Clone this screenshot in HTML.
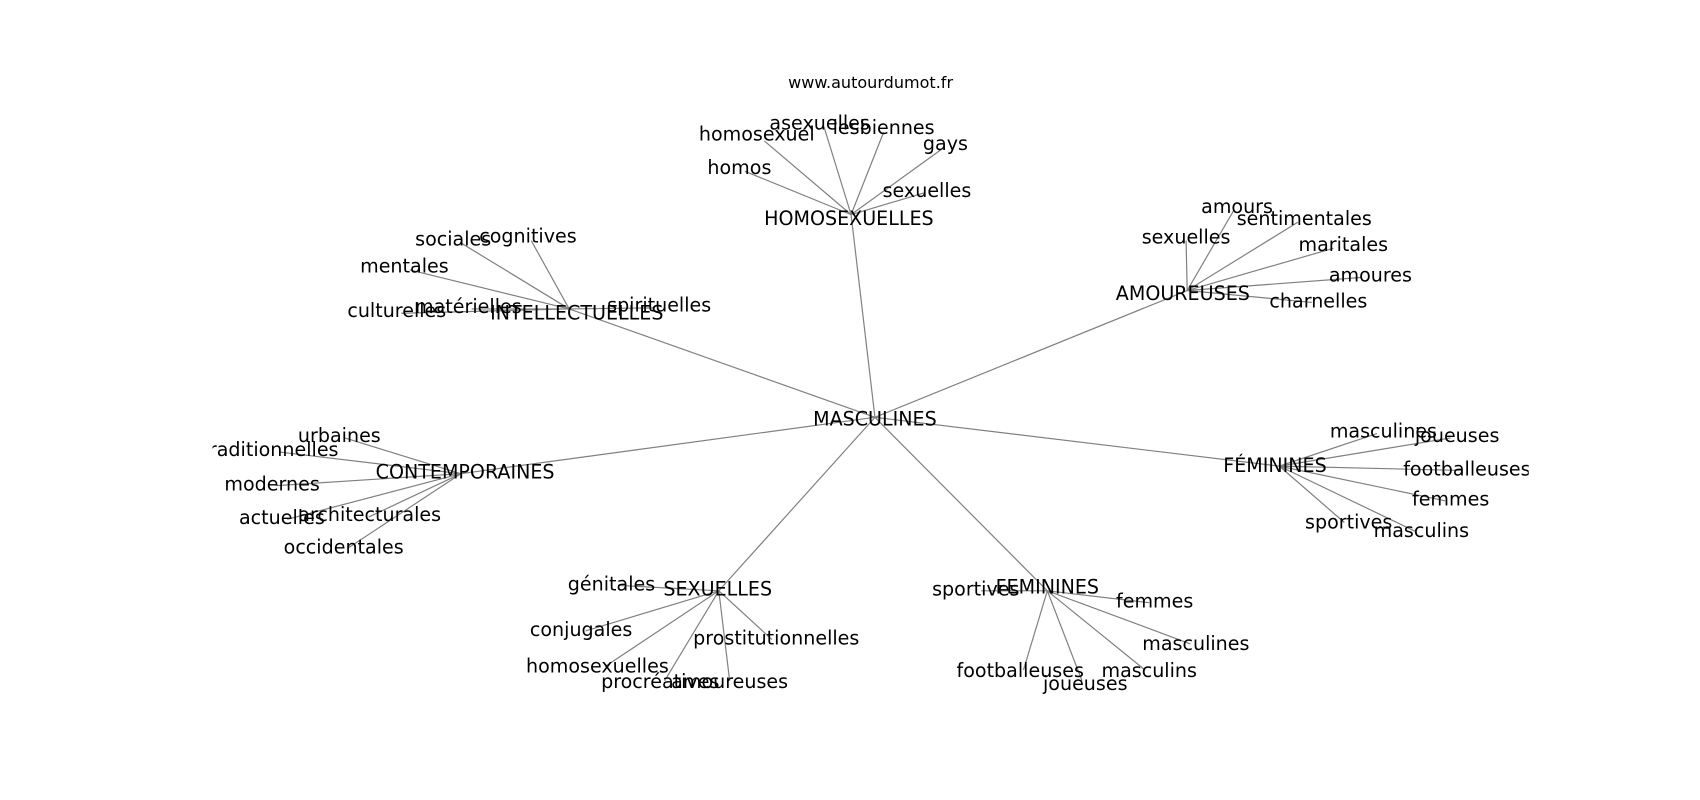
<!DOCTYPE html>
<html><head><meta charset="utf-8"><style>
html,body{margin:0;padding:0;background:#fff;width:1700px;height:800px;overflow:hidden}
svg text{font-family:"DejaVu Sans","Liberation Sans",sans-serif;font-size:17.6px;fill:#000;text-anchor:middle;dominant-baseline:central}
line{stroke:#808080;stroke-width:1.1}
</style></head><body>
<svg width="1700" height="800" viewBox="0 0 1568 738" preserveAspectRatio="none" xmlns="http://www.w3.org/2000/svg">
<defs><clipPath id="c"><rect x="196" y="0" width="1214" height="738"/></clipPath></defs>
<g>
<line x1="807" y1="385" x2="785" y2="198"/>
<line x1="807" y1="385" x2="1095" y2="268"/>
<line x1="807" y1="385" x2="525" y2="285"/>
<line x1="807" y1="385" x2="425" y2="437"/>
<line x1="807" y1="385" x2="1180" y2="430"/>
<line x1="807" y1="385" x2="663" y2="545"/>
<line x1="807" y1="385" x2="966" y2="545"/>

<line x1="785" y1="198" x2="687" y2="158"/>
<line x1="785" y1="198" x2="705" y2="130"/>
<line x1="785" y1="198" x2="760" y2="117"/>
<line x1="785" y1="198" x2="815" y2="122"/>
<line x1="785" y1="198" x2="868" y2="138"/>
<line x1="785" y1="198" x2="852" y2="178"/>

<line x1="1095" y1="268" x2="1138" y2="194"/>
<line x1="1095" y1="268" x2="1094" y2="222"/>
<line x1="1095" y1="268" x2="1197" y2="205"/>
<line x1="1095" y1="268" x2="1230" y2="229"/>
<line x1="1095" y1="268" x2="1255" y2="256"/>
<line x1="1095" y1="268" x2="1210" y2="279"/>

<line x1="525" y1="285" x2="425" y2="224"/>
<line x1="525" y1="285" x2="490" y2="222"/>
<line x1="525" y1="285" x2="378" y2="249"/>
<line x1="525" y1="285" x2="370" y2="289"/>
<line x1="525" y1="285" x2="435" y2="285"/>
<line x1="525" y1="285" x2="603" y2="284"/>

<line x1="425" y1="437" x2="318" y2="404"/>
<line x1="425" y1="437" x2="258" y2="417"/>
<line x1="425" y1="437" x2="255" y2="448"/>
<line x1="425" y1="437" x2="265" y2="479"/>
<line x1="425" y1="437" x2="340" y2="477"/>
<line x1="425" y1="437" x2="322" y2="505"/>

<line x1="1180" y1="430" x2="1270" y2="400"/>
<line x1="1180" y1="430" x2="1338" y2="404"/>
<line x1="1180" y1="430" x2="1348" y2="434"/>
<line x1="1180" y1="430" x2="1333" y2="462"/>
<line x1="1180" y1="430" x2="1240" y2="482"/>
<line x1="1180" y1="430" x2="1305" y2="490"/>

<line x1="663" y1="545" x2="570" y2="540"/>
<line x1="663" y1="545" x2="540" y2="582"/>
<line x1="663" y1="545" x2="712" y2="590"/>
<line x1="663" y1="545" x2="558" y2="615"/>
<line x1="663" y1="545" x2="613" y2="628"/>
<line x1="663" y1="545" x2="673" y2="628"/>

<line x1="966" y1="545" x2="905" y2="545"/>
<line x1="966" y1="545" x2="1060" y2="556"/>
<line x1="966" y1="545" x2="1098" y2="594"/>
<line x1="966" y1="545" x2="944" y2="618"/>
<line x1="966" y1="545" x2="998" y2="628"/>
<line x1="966" y1="545" x2="1056" y2="618"/>
</g>
<text x="803" y="76" style="font-size:14.8px">www.autourdumot.fr</text>
<g clip-path="url(#c)">
<text x="807" y="387">MASCULINES</text>
<text x="783" y="202">HOMOSEXUELLES</text>
<text x="682" y="155">homos</text>
<text x="698" y="124">homosexuel</text>
<text x="756" y="114">asexuelles</text>
<text x="815" y="118">lesbiennes</text>
<text x="872" y="133">gays</text>
<text x="855" y="176">sexuelles</text>

<text x="1091" y="271">AMOUREUSES</text>
<text x="1141" y="191">amours</text>
<text x="1094" y="219">sexuelles</text>
<text x="1203" y="202">sentimentales</text>
<text x="1239" y="226">maritales</text>
<text x="1264" y="254">amoures</text>
<text x="1216" y="278">charnelles</text>

<text x="532" y="289">INTELLECTUELLES</text>
<text x="418" y="221">sociales</text>
<text x="487" y="218">cognitives</text>
<text x="373" y="246">mentales</text>
<text x="366" y="287">culturelles</text>
<text x="432" y="283">matérielles</text>
<text x="608" y="282">spirituelles</text>

<text x="429" y="436">CONTEMPORAINES</text>
<text x="313" y="402">urbaines</text>
<text x="249" y="415">traditionnelles</text>
<text x="251" y="447">modernes</text>
<text x="260" y="478">actuelles</text>
<text x="341" y="475">architecturales</text>
<text x="317" y="505">occidentales</text>

<text x="1176" y="430">FÉMININES</text>
<text x="1276" y="398">masculines</text>
<text x="1344" y="402">joueuses</text>
<text x="1353" y="433">footballeuses</text>
<text x="1338" y="461">femmes</text>
<text x="1244" y="482">sportives</text>
<text x="1311" y="490">masculins</text>

<text x="662" y="544">SEXUELLES</text>
<text x="564" y="539">génitales</text>
<text x="536" y="581">conjugales</text>
<text x="716" y="589">prostitutionnelles</text>
<text x="551" y="615">homosexuelles</text>
<text x="609" y="629">procréatives</text>
<text x="673" y="629">amoureuses</text>

<text x="966" y="542">FEMININES</text>
<text x="900" y="544">sportives</text>
<text x="1065" y="555">femmes</text>
<text x="1103" y="594">masculines</text>
<text x="941" y="619">footballeuses</text>
<text x="1001" y="631">joueuses</text>
<text x="1060" y="619">masculins</text>
</g>
</svg>
</body></html>
